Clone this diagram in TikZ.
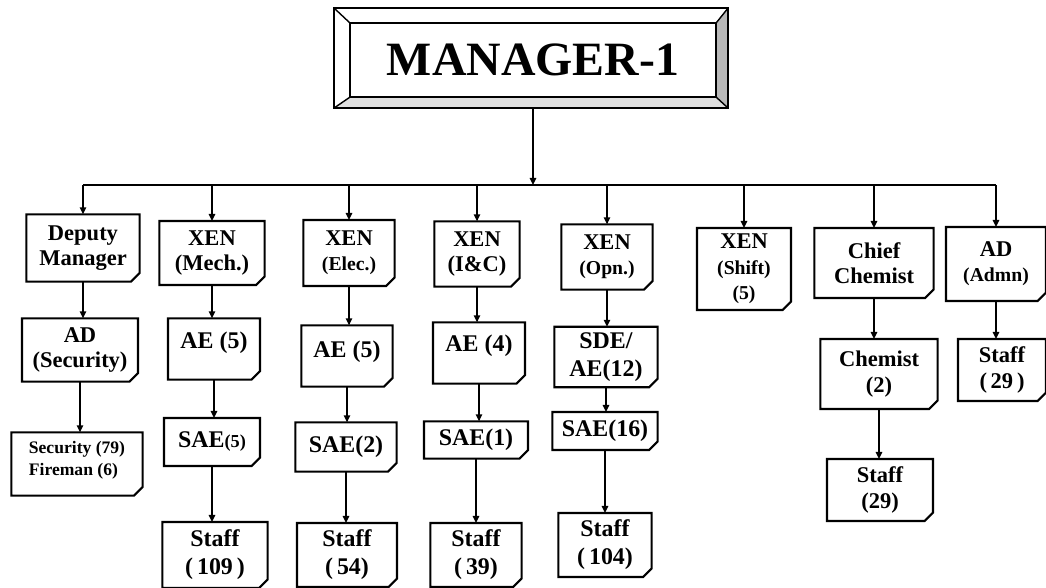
\documentclass[tikz,border=0pt]{standalone}
\usepackage{fontspec}
\setmainfont{Liberation Serif}
\usetikzlibrary{shapes.misc, arrows.meta, positioning, calc}

\begin{document}
\begin{tikzpicture}[x=0.025cm, y=-0.025cm,
    post/.style={chamfered rectangle, chamfered rectangle corners=south east,
                 chamfered rectangle xsep=3pt, draw, line width=1.5pt, fill=white,
                 inner sep=1pt, outer sep=0pt, align=center,
                 font=\bfseries\fontsize{16}{18}\selectfont},
    lbl/.style={font=\bfseries\fontsize{17}{20}\selectfont},
    conn/.style={line width=1.1pt},
    arr/.style={conn, -{Triangle[length=5pt, width=4.5pt]}}]
    \useasboundingbox (0,0) rectangle (1046,587);

    % Manager
    \node[minimum width=9.15cm, minimum height=1.85cm, inner sep=0pt,
          font=\bfseries\fontsize{34}{37}\selectfont] (mgr) at (533,60) {MANAGER-1};
    \coordinate (mo-nw) at ($(mgr.north west)+(-16,-15)$);
    \coordinate (mo-ne) at ($(mgr.north east)+(12,-15)$);
    \coordinate (mo-se) at ($(mgr.south east)+(12,11)$);
    \coordinate (mo-sw) at ($(mgr.south west)+(-16,11)$);
    \fill[gray!55] (mo-ne) -- (mo-se) -- (mgr.south east) -- (mgr.north east) -- cycle;
    \fill[gray!25] (mo-sw) -- (mo-se) -- (mgr.south east) -- (mgr.south west) -- cycle;
    \draw[line width=1.5pt] (mo-nw) rectangle (mo-se);
    \draw[line width=1.3pt] (mgr.north west) rectangle (mgr.south east);
    \draw[line width=1pt] (mo-nw) -- (mgr.north west) (mo-ne) -- (mgr.north east)
        (mo-se) -- (mgr.south east) (mo-sw) -- (mgr.south west);
    \coordinate (mgr-out) at (mgr.south |- mo-se);
    \coordinate (bus) at (533,185);

    % Top row
    \node[post, minimum width=2.83cm, minimum height=1.68cm] (dep) at (83,248) {Deputy\\Manager};
    \node[post, minimum width=2.63cm, minimum height=1.6cm] (mech) at (212,253) {XEN\\(Mech.)};
    \node[post, minimum width=2.28cm, minimum height=1.65cm] (elec) at (349,253) {XEN\\\fontsize{14}{17}\selectfont(Elec.)};
    \node[post, minimum width=2.13cm, minimum height=1.63cm] (ic) at (477,254) {XEN\\(I\&C)};
    \node[post, minimum width=2.28cm, minimum height=1.63cm] (opn) at (607,257) {XEN\\\fontsize{14}{17}\selectfont(Opn.)};
    \node[post, minimum width=2.35cm, minimum height=2.05cm] (shift) at (744,269) {XEN\\\fontsize{14}{17}\selectfont(Shift)\\\fontsize{14}{17}\selectfont(5)};
    \node[post, minimum width=2.98cm, minimum height=1.75cm] (chief) at (874,263) {Chief\\Chemist};
    \node[post, minimum width=2.5cm, minimum height=1.85cm] (adm) at (996,264) {AD\\\fontsize{14}{17}\selectfont(Admn)};

    % Second row
    \node[post, minimum width=2.9cm, minimum height=1.58cm] (sec) at (80,350) {AD\\(Security)};
    \node[post, lbl, text depth=12pt, minimum width=2.3cm, minimum height=1.53cm] (aem) at (214,349) {AE (5)};
    \node[post, lbl, text depth=10pt, minimum width=2.28cm, minimum height=1.53cm] (aee) at (347,356) {AE (5)};
    \node[post, lbl, text depth=14pt, minimum width=2.3cm, minimum height=1.53cm] (aei) at (479,353) {AE (4)};
    \node[post, lbl, minimum width=2.58cm, minimum height=1.48cm] (sde) at (606,357) {SDE/\\AE(12)};
    \node[post, minimum width=2.93cm, minimum height=1.75cm] (chem) at (879,374) {Chemist\\(2)};
    \node[post, minimum width=2.2cm, minimum height=1.55cm] (admst) at (1002,370) {Staff\\(\,29\,)};

    % Third row
    \node[post, align=left, text depth=8pt, minimum width=3.28cm, minimum height=1.58cm,
          font=\bfseries\fontsize{12.5}{15}\selectfont] (fire) at (77,464) {Security (79)\\Fireman (6)};
    \node[post, lbl, minimum width=2.4cm, minimum height=1.2cm] (saem) at (212,442) {SAE{\fontsize{13}{15}\selectfont(5)}};
    \node[post, lbl, minimum width=2.53cm, minimum height=1.23cm] (saee) at (346,447) {SAE(2)};
    \node[post, lbl, minimum width=2.6cm, minimum height=0.93cm] (saei) at (476,440) {SAE(1)};
    \node[post, lbl, minimum width=2.63cm, minimum height=0.95cm] (saeo) at (605,431) {SAE(16)};
    \node[post, minimum width=2.65cm, minimum height=1.55cm] (chst) at (880,490) {Staff\\(29)};

    % Bottom row
    \node[post, lbl, minimum width=2.63cm, minimum height=1.65cm] (stm) at (215,555) {Staff\\(\,109\,)};
    \node[post, lbl, minimum width=2.5cm, minimum height=1.6cm] (ste) at (347,555) {Staff\\(\,54)};
    \node[post, lbl, minimum width=2.28cm, minimum height=1.6cm] (sti) at (476,555) {Staff\\(\,39)};
    \node[post, lbl, minimum width=2.33cm, minimum height=1.6cm] (sto) at (605,545) {Staff\\(\,104)};

    % Bus
    \draw[arr] (mgr-out) -- (bus);
    \draw[conn] (bus -| dep.north) -- (bus -| adm.north);
    \foreach \n in {dep, mech, elec, ic, opn, shift, chief, adm}
        \draw[arr] (bus -| \n.north) -- (\n.north);

    % Columns
    \draw[arr] (dep.south) -- (dep.south |- sec.north);
    \draw[arr] (sec.south) -- (sec.south |- fire.north);
    \draw[arr] (mech.south) -- (mech.south |- aem.north);
    \draw[arr] (aem.south) -- (aem.south |- saem.north);
    \draw[arr] (saem.south) -- (saem.south |- stm.north);
    \draw[arr] (elec.south) -- (elec.south |- aee.north);
    \draw[arr] (aee.south) -- (aee.south |- saee.north);
    \draw[arr] (saee.south) -- (saee.south |- ste.north);
    \draw[arr] (ic.south) -- (ic.south |- aei.north);
    \draw[arr] (aei.south) -- (aei.south |- saei.north);
    \draw[arr] (saei.south) -- (saei.south |- sti.north);
    \draw[arr] (opn.south) -- (opn.south |- sde.north);
    \draw[arr] (sde.south) -- (sde.south |- saeo.north);
    \draw[arr] (saeo.south) -- (saeo.south |- sto.north);
    \draw[arr] (chief.south) -- (chief.south |- chem.north);
    \draw[arr] (chem.south) -- (chem.south |- chst.north);
    \draw[arr] (adm.south) -- (adm.south |- admst.north);
\end{tikzpicture}
\end{document}
